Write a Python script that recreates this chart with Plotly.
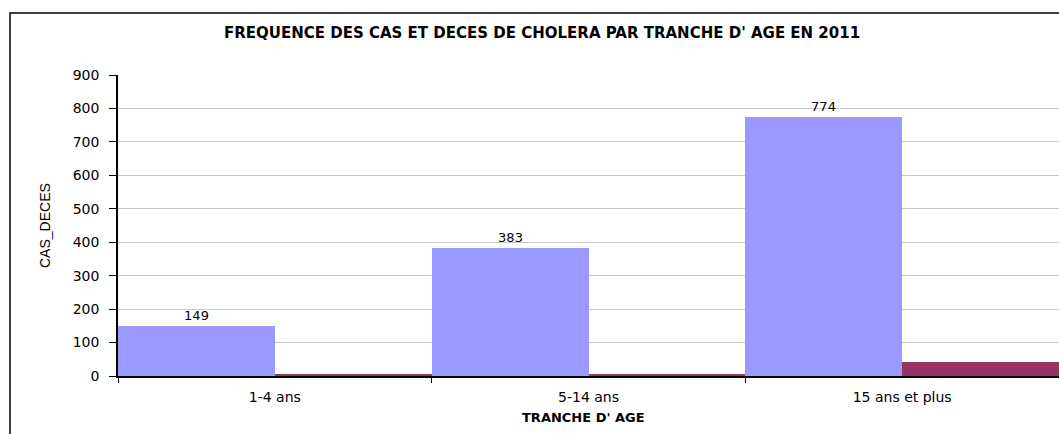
import plotly.graph_objects as go

categories = ["1-4 ans", "5-14 ans", "15 ans et plus"]
cas = [149, 383, 774]
deces = [7, 6, 42]
y_ticks = [0, 100, 200, 300, 400, 500, 600, 700, 800, 900]

W, H = 1059, 434
# page coords of plot area: left 118, top 75, bottom 376, right 1059
L = 118
T = 75
B = H - 376
R = 0
pw = W - L - R
ph = H - T - B

SANS = "DejaVu Sans, Verdana, sans-serif"

fig = go.Figure()
fig.add_trace(go.Bar(
    x=categories, y=cas, name="CAS",
    marker=dict(color="#9999FF", line=dict(width=0)),
    text=[str(v) for v in cas], textposition="outside",
    textfont=dict(family=SANS, size=13, color="#000000"),
    cliponaxis=False,
))
fig.add_trace(go.Bar(
    x=categories, y=deces, name="DECES",
    marker=dict(color="#993366", line=dict(width=0)),
))

def px_x(p):
    return (p - L) / pw

def px_y(p):
    return (H - B - p) / ph

fig.update_layout(
    width=W, height=H,
    margin=dict(l=L, r=R, t=T, b=B, pad=0),
    paper_bgcolor="white", plot_bgcolor="white",
    barmode="group", bargap=0, bargroupgap=0,
    showlegend=False,
    font=dict(family=SANS, size=13, color="#000000"),
)
fig.update_yaxes(
    range=[0, 900], tickvals=y_ticks, ticktext=[str(v) for v in y_ticks],
    showgrid=True, gridcolor="#C8C8C8", gridwidth=1,
    showline=True, linecolor="#000000", linewidth=1.5,
    ticks="outside", ticklen=7, tickcolor="#000000", tickwidth=1,
    tickfont=dict(family=SANS, size=14),
    ticklabelstandoff=7,
    zeroline=False,
)
fig.update_xaxes(
    showgrid=False, showline=True, linecolor="#000000", linewidth=1.5,
    ticks="outside", ticklen=5, tickcolor="#000000", tickson="boundaries",
    tickfont=dict(family=SANS, size=14),
    ticklabelstandoff=7,
    range=[-0.5, 2.5],
)

# outer chart border
fig.add_shape(type="rect", xref="paper", yref="paper",
              x0=px_x(10), x1=px_x(1100), y0=px_y(13), y1=px_y(470),
              line=dict(color="#000000", width=1.5), fillcolor="rgba(0,0,0,0)", layer="above")

fig.add_annotation(text="<b>FREQUENCE DES CAS ET DECES DE CHOLERA PAR TRANCHE D' AGE EN 2011</b>",
                   xref="paper", yref="paper", x=px_x(542), y=px_y(33),
                   showarrow=False, xanchor="center", yanchor="middle",
                   font=dict(family=SANS, size=15))
fig.add_annotation(text="CAS_DECES", textangle=-90,
                   xref="paper", yref="paper", x=px_x(45), y=px_y(226),
                   showarrow=False, xanchor="center", yanchor="middle",
                   font=dict(family="Liberation Sans, Arial", size=14))
fig.add_annotation(text="<b>TRANCHE D' AGE</b>",
                   xref="paper", yref="paper", x=px_x(583), y=px_y(417),
                   showarrow=False, xanchor="center", yanchor="middle",
                   font=dict(family=SANS, size=13))

fig.write_html(
    "out.html",
    config={"displayModeBar": False},
    post_script="document.body.style.margin='0';document.body.style.overflow='hidden';",
)
